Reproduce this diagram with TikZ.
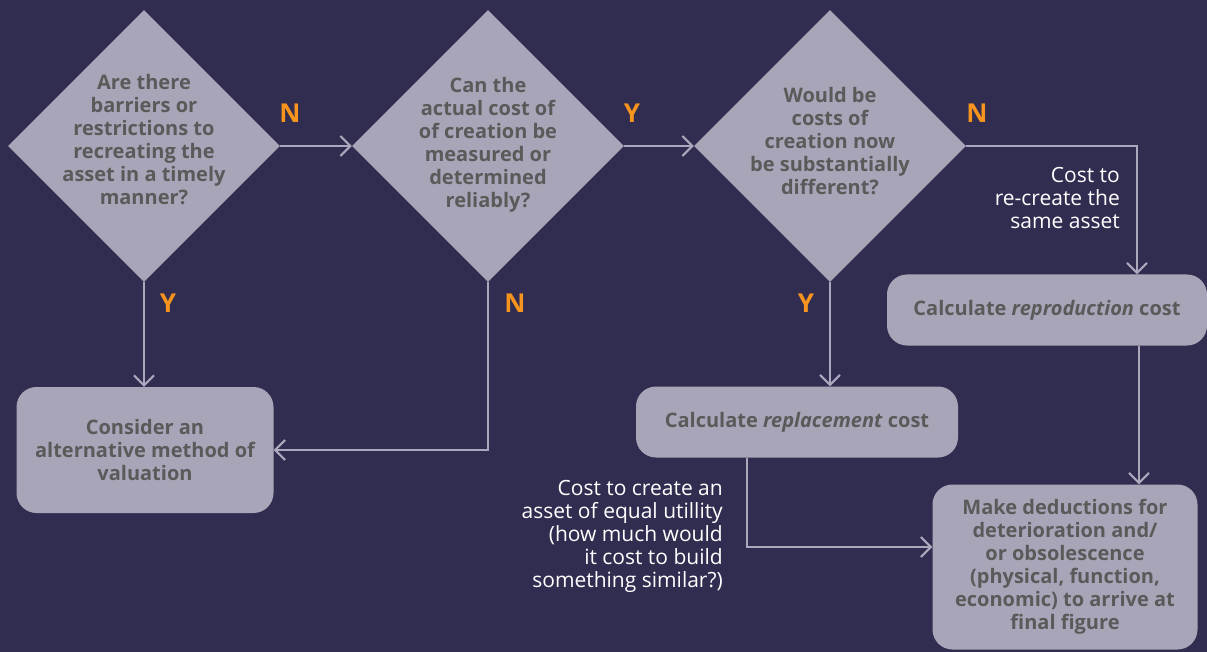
\documentclass[tikz,border=0pt]{standalone}
\usepackage{fontspec}
\setmainfont{Open Sans}
\usetikzlibrary{arrows.meta,positioning,shapes.geometric}
\definecolor{bgnavy}{HTML}{312D50}
\definecolor{shapegrey}{HTML}{A9A5B8}
\definecolor{textgrey}{HTML}{5A5A5A}
\definecolor{answerorange}{HTML}{F7941D}
\definecolor{wiregrey}{HTML}{ABA7BC}

\begin{document}
\begin{tikzpicture}[
      x=1pt, y=-1pt,
      decision/.style = {
        diamond, fill=shapegrey, inner sep=0pt,
        minimum width=272pt, minimum height=272pt,
      },
      question/.style = {
        text=textgrey, align=center, inner sep=0pt,
        font=\fontsize{20pt}{23pt}\selectfont\bfseries,
      },
      process/.style = {
        rectangle, rounded corners=20pt, fill=shapegrey, text=textgrey,
        align=center, inner sep=0pt,
        font=\fontsize{20pt}{23pt}\selectfont\bfseries,
      },
      answer/.style = {
        text=answerorange, inner sep=0pt,
        font=\fontsize{26pt}{30pt}\selectfont\bfseries,
      },
      note/.style = {
        text=white, align=right, anchor=east, inner sep=0pt,
        font=\fontsize{21pt}{23pt}\selectfont,
      },
      connector/.style = {
        draw=wiregrey, line width=2pt, -{Straight Barb[length=10pt,width=20pt]},
      },
    ]
    \fill[bgnavy] (0,0) rectangle (1207,652);
    \useasboundingbox (0,0) rectangle (1207,652);
    \node[decision] (Barriers) at (144,146) {};
    \node[question] (BarriersText) at (144,140)
      {Are there\\ barriers or\\ restrictions to\\ recreating the\\ asset in a timely\\ manner?};
    \node[decision] (Measured) at (488,146) {};
    \node[question] (MeasuredText) at (488,145)
      {Can the\\ actual cost of\\ of creation be\\ measured or\\ determined\\ reliably?};
    \node[decision] (Different) at (830,146) {};
    \node[question] (DifferentText) at (830,141)
      {Would be\\ costs of\\ creation now\\ be substantially\\ different?};
    \node[process, minimum width=257pt, minimum height=126pt] (Consider) at (145,450)
      {Consider an\\ alternative method of\\ valuation};
    \node[process, minimum width=322pt, minimum height=71pt] (Replacement) at (797,422)
      {Calculate \textit{replacement} cost};
    \node[process, minimum width=320pt, minimum height=71pt] (Reproduction) at (1047,310)
      {Calculate \textit{reproduction} cost};
    \node[process, minimum width=265pt, minimum height=165pt] (Deductions) at (1065,567)
      {Make deductions for\\ deterioration and/\\ or obsolescence\\ (physical, function,\\ economic) to arrive at\\ final figure};
    \draw[connector] (Barriers.east) -- (Measured.west);
    \draw[connector] (Measured.east) -- (Different.west);
    \draw[connector] (Different.east) -| ([xshift=90pt]Reproduction.north);
    \draw[connector] ([xshift=92pt]Reproduction.south) -- ([xshift=92pt]Reproduction.south |- Deductions.north);
    \draw[connector] (Barriers.south) -- (Barriers.south |- Consider.north);
    \draw[connector] (Measured.south) |- (Consider.east);
    \draw[connector] (Different.south) -- (Different.south |- Replacement.north);
    \draw[connector] ([xshift=-50pt]Replacement.south) |- ([yshift=20pt]Deductions.west);
    \node[answer] (BarriersNo) at (290,113) {N};
    \node[answer] (BarriersYes) at (168,303) {Y};
    \node[answer] (MeasuredYes) at (632,113) {Y};
    \node[answer] (MeasuredNo) at (515,303) {N};
    \node[answer] (DifferentNo) at (977,113) {N};
    \node[answer] (DifferentYes) at (806,303) {Y};
    \node[note] (SameAsset) at (1120,198) {Cost to\\ re-create the\\ same asset};
    \node[note] (EqualUtility) at (723,536)
      {Cost to create an\\ asset of equal utillity\\ (how much would\\ it cost to build\\ something similar?)};
  \end{tikzpicture}
\end{document}
